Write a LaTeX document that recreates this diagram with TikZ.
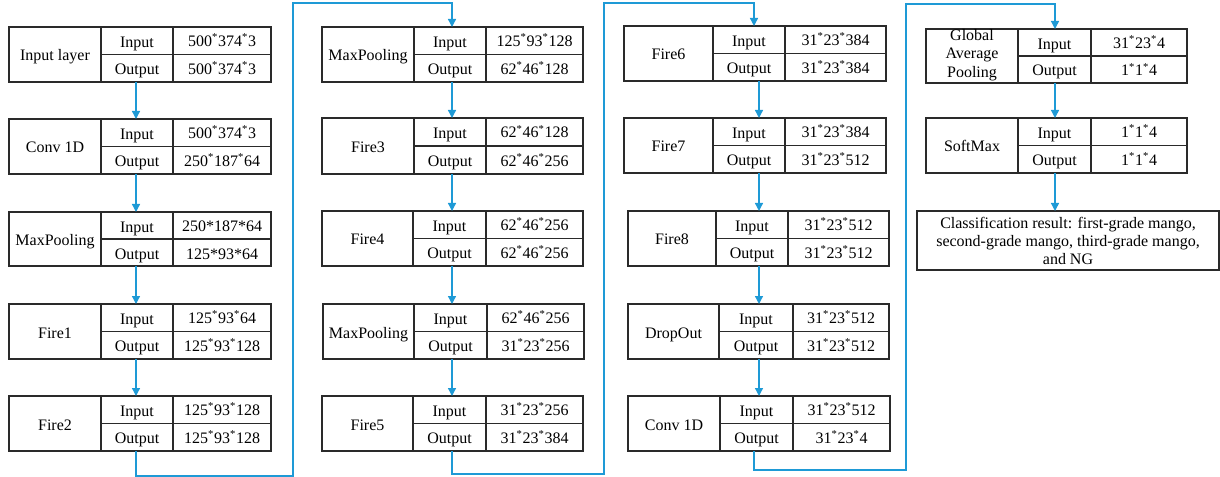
\documentclass[tikz,border=0pt]{standalone}
\usepackage{fontspec}
\setmainfont{Liberation Serif}
\usetikzlibrary{arrows.meta}
\definecolor{conn}{HTML}{1E9AD6}
\definecolor{edge}{HTML}{2A2A2A}
\newcommand\mystar{\textsuperscript{*}}
\newcommand\pairvals[2]{%
  \node[txtb] (\curid-vi) at (\curid-pvi) {#1};
  \node[txtb] (\curid-vo) at (\curid-pvo) {#2};}
\def\blk#1:#2,#3,#4,#5,#6,#7:#8:#9;{%
  \def\curid{#1}%
  \pgfmathsetmacro\ym{(#6+#7)/2}%
  \pgfmathsetmacro\bw{(#5-#2)*0.75}%
  \pgfmathsetmacro\bh{(#7-#6)*0.75}%
  \node[frame, minimum width=\bw pt, minimum height=\bh pt] (#1) at ({(#2+#5)/2},\ym) {};
  \draw[cellline] (#3,#6) -- (#3,#7);
  \draw[cellline] (#4,#6) -- (#4,#7);
  \draw[cellline] (#3,\ym) -- (#5,\ym);
  \node[txtb] (#1-l) at ({(#2+#3)/2},{\ym+6.5}) {#8};
  \node[txtb] (#1-i) at ({(#3+#4)/2},{(#6+\ym)/2+7}) {Input};
  \node[txtb] (#1-o) at ({(#3+#4)/2},{(#7+\ym)/2+6.5}) {Output};
  \coordinate (#1-pvi) at ({(#4+#5)/2},{(#6+\ym)/2+6});
  \coordinate (#1-pvo) at ({(#4+#5)/2},{(#7+\ym)/2+6.5});
  \pairvals#9}
\begin{document}
\begin{tikzpicture}[x=0.75pt,y=-0.75pt,
  frame/.style={draw=edge, line width=0.9pt, inner sep=0pt, outer sep=0pt, fill=white},
  cellline/.style={draw=edge, line width=0.9pt},
  txt/.style={inner sep=0pt, align=center, font=\fontsize{12}{13.8}\selectfont},
  txtb/.style={txt, anchor=base},
  arr/.style={draw=conn, line width=1pt, -{Triangle[width=6pt,length=6pt]}},
  link/.style={draw=conn, line width=1pt}]
\useasboundingbox (0,0) rectangle (1220,477);
% column 1
\blk in1:9,101,173,271,27,82:Input layer:{500\mystar374\mystar3}{500\mystar374\mystar3};
\blk conva:9,101,173,271,119,174:Conv 1D:{500\mystar374\mystar3}{250\mystar187\mystar64};
\blk mpa:9,101,173,271,212,266:MaxPooling:{250*187*64}{125*93*64};
\blk fire1:9,101,173,271,304,359:Fire1:{125\mystar93\mystar64}{125\mystar93\mystar128};
\blk fire2:9,101,173,271,396,451:Fire2:{125\mystar93\mystar128}{125\mystar93\mystar128};
% column 2
\blk mpb:322,414,486,583,27,82:MaxPooling:{125\mystar93\mystar128}{62\mystar46\mystar128};
\blk fire3:322,414,486,583,118,174:Fire3:{62\mystar46\mystar128}{62\mystar46\mystar256};
\blk fire4:322,413,486,583,211,266:Fire4:{62\mystar46\mystar256}{62\mystar46\mystar256};
\blk mpc:323,414,487,584,304,359:MaxPooling:{62\mystar46\mystar256}{31\mystar23\mystar256};
\blk fire5:322,413,486,583,396,451:Fire5:{31\mystar23\mystar256}{31\mystar23\mystar384};
% column 3
\blk fire6:624,713,785,886,26,81:Fire6:{31\mystar23\mystar384}{31\mystar23\mystar384};
\blk fire7:624,713,785,886,118,173:Fire7:{31\mystar23\mystar384}{31\mystar23\mystar512};
\blk fire8:628,716,788,889,211,266:Fire8:{31\mystar23\mystar512}{31\mystar23\mystar512};
\blk drop:628,719,793,889,304,359:DropOut:{31\mystar23\mystar512}{31\mystar23\mystar512};
\blk convb:628,720,793,890,396,451:Conv 1D:{31\mystar23\mystar512}{31\mystar23\mystar4};
% column 4
\blk gap:926,1018,1091,1187,29,83::{31\mystar23\mystar4}{1\mystar1\mystar4};
\node[txt] (gap-t) at (972,55) {Global\\Average\\Pooling};
\blk soft:926,1018,1091,1187,118,173:SoftMax:{1\mystar1\mystar4}{1\mystar1\mystar4};
\node[frame, minimum width=226.5pt, minimum height=44.25pt] (cls) at (1068,240.5) {};
\node[txt] (cls-t) at (1068,241) {Classification result: first-grade mango,\\second-grade mango, third-grade mango,\\and NG};
% column x positions
\coordinate (xa) at (136,0);
\coordinate (xb) at (452,0);
\coordinate (xc) at (759,0);
\coordinate (xcin) at (754,0);
\coordinate (xd) at (1055,0);
% column 1 arrows
\draw[arr] (in1.south -| xa) -- (conva.north -| xa);
\draw[arr] (conva.south -| xa) -- (mpa.north -| xa);
\draw[arr] (mpa.south -| xa) -- (fire1.north -| xa);
\draw[arr] (fire1.south -| xa) -- (fire2.north -| xa);
% wrap 1
\coordinate (w1a) at (136,476);
\coordinate (w1b) at (293,476);
\coordinate (w1c) at (293,3);
\coordinate (w1d) at (452,3);
\draw[arr] (fire2.south -| xa) -- (w1a) -- (w1b) -- (w1c) -- (w1d) -- (mpb.north -| xb);
% column 2 arrows
\draw[arr] (mpb.south -| xb) -- (fire3.north -| xb);
\draw[arr] (fire3.south -| xb) -- (fire4.north -| xb);
\draw[arr] (fire4.south -| xb) -- (mpc.north -| xb);
\draw[arr] (mpc.south -| xb) -- (fire5.north -| xb);
% wrap 2
\coordinate (w2a) at (452,474);
\coordinate (w2b) at (604,474);
\coordinate (w2c) at (604,3);
\coordinate (w2d) at (754,3);
\draw[arr] (fire5.south -| xb) -- (w2a) -- (w2b) -- (w2c) -- (w2d) -- (fire6.north -| xcin);
% column 3 arrows
\draw[arr] (fire6.south -| xc) -- (fire7.north -| xc);
\draw[arr] (fire7.south -| xc) -- (fire8.north -| xc);
\draw[arr] (fire8.south -| xc) -- (drop.north -| xc);
\draw[arr] (drop.south -| xc) -- (convb.north -| xc);
% wrap 3
\coordinate (w3a) at (754,470);
\coordinate (w3b) at (906,470);
\coordinate (w3c) at (906,4);
\coordinate (w3d) at (1055,4);
\draw[arr] (convb.south -| xcin) -- (w3a) -- (w3b) -- (w3c) -- (w3d) -- (gap.north -| xd);
% column 4 arrows
\draw[arr] (gap.south -| xd) -- (soft.north -| xd);
\draw[arr] (soft.south -| xd) -- (cls.north -| xd);
\end{tikzpicture}
\end{document}
